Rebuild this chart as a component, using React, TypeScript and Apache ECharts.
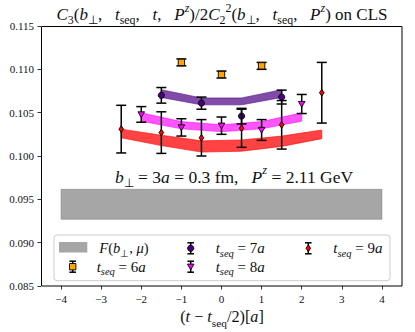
import React, { useEffect, useRef } from "react";
import * as echarts from "echarts";

// ---- data ----
const xTicks = [-4, -3, -2, -1, 0, 1, 2, 3, 4];

const x6 = [-1, 0, 1];
const y6 = [0.1108, 0.1094, 0.1104];
const e6 = [0.0004, 0.0004, 0.0004];

const x7 = [-1.5, -0.5, 0.5, 1.5];
const y7 = [0.107, 0.1061, 0.1046, 0.1068];
const e7 = [0.0009, 0.0007, 0.0009, 0.0008];

const x8 = [-2, -1, 0, 1, 2];
const y8 = [0.1048, 0.1033, 0.1035, 0.103, 0.106];
const e8 = [0.0009, 0.001, 0.001, 0.0012, 0.0011];

const x9 = [-2.5, -1.5, -0.5, 0.5, 1.5, 2.5];
const y9 = [0.1031, 0.1027, 0.1021, 0.1032, 0.1036, 0.1073];
const e9 = [0.00275, 0.0024, 0.0021, 0.0022, 0.0028, 0.0035];

// fit bands (centre, half width)
const b7x = [-1.5, -0.5, 0.5, 1.5];
const b7c = [0.1072, 0.1063, 0.1063, 0.1072];
const b7h = [0.00045, 0.0004, 0.0004, 0.00045];

const b8x = [-2, -1, 0, 1, 2];
const b8c = [0.1045, 0.10355, 0.1032, 0.10355, 0.1045];
const b8h = [0.00048, 0.00042, 0.0004, 0.00042, 0.00048];

const b9x = [-2.5, -1.5, -0.5, 0.5, 1.5, 2.5];
const b9c = [0.1026, 0.1018, 0.1011, 0.1012, 0.1017, 0.1025];
const b9h = [0.0005, 0.0006, 0.00065, 0.00065, 0.0006, 0.0005];

const bFx = [-4, 4];
const bFc = [0.094425, 0.094425];
const bFh = [0.001725, 0.001725];

const FONT = "'Liberation Serif', serif";

function richSet(S: number) {
  return {
    r: { fontFamily: FONT, fontSize: S, fontStyle: "normal", lineHeight: S * 1.4, fill: "#111" },
    i: { fontFamily: FONT, fontSize: S, fontStyle: "italic", lineHeight: S * 1.4, fill: "#111" },
    sub: { fontFamily: FONT, fontSize: S * 0.7, lineHeight: S * 0.7, verticalAlign: "bottom", fill: "#111" },
    isub: { fontFamily: FONT, fontSize: S * 0.7, fontStyle: "italic", lineHeight: S * 0.7, verticalAlign: "bottom", fill: "#111" },
    sup: { fontFamily: FONT, fontSize: S * 0.7, fontStyle: "italic", lineHeight: S * 0.7, verticalAlign: "top", fill: "#111" },
    nsup: { fontFamily: FONT, fontSize: S * 0.7, lineHeight: S * 0.7, verticalAlign: "top", fill: "#111" },
  };
}

function markerEl(shape: string, x: number, y: number, fill: string) {
  const st = { fill, stroke: "#000", lineWidth: 0.9 };
  if (shape === "square") return { type: "rect", shape: { x: x - 3.2, y: y - 3.2, width: 6.4, height: 6.4 }, style: st };
  if (shape === "circle") return { type: "circle", shape: { cx: x, cy: y, r: 3.1 }, style: st };
  if (shape === "tri")
    return { type: "polygon", shape: { points: [[x - 3.3, y - 2.6], [x + 3.3, y - 2.6], [x, y + 3.1]] }, style: st };
  return { type: "polygon", shape: { points: [[x, y - 3.4], [x + 2.3, y], [x, y + 3.4], [x - 2.3, y]] }, style: st };
}

function errIcon(cx: number, cy: number, shape: string, fill: string, half: number, cap: number) {
  const ls = { stroke: "#000", lineWidth: 1.5 };
  return [
    { type: "line", shape: { x1: cx, y1: cy - half, x2: cx, y2: cy + half }, style: ls },
    { type: "line", shape: { x1: cx - cap, y1: cy - half, x2: cx + cap, y2: cy - half }, style: ls },
    { type: "line", shape: { x1: cx - cap, y1: cy + half, x2: cx + cap, y2: cy + half }, style: ls },
    markerEl(shape, cx, cy, fill),
  ];
}

function errSeries(name: string, xs: number[], ys: number[], es: number[], shape: string, fill: string, z: number) {
  return {
    type: "custom",
    name,
    z,
    silent: true,
    data: xs.map((x, i) => [x, ys[i], es[i]]),
    encode: { x: 0, y: 1 },
    renderItem: (params: any, api: any) => {
      const x = api.value(0);
      const v = api.value(1);
      const e = api.value(2);
      const pt = api.coord([x, v + e]);
      const pb = api.coord([x, v - e]);
      const p = api.coord([x, v]);
      const cap = 5;
      const ls = { stroke: "#000", lineWidth: 1.5 };
      return {
        type: "group",
        children: [
          { type: "line", shape: { x1: pt[0], y1: pt[1], x2: pb[0], y2: pb[1] }, style: ls },
          { type: "line", shape: { x1: pt[0] - cap, y1: pt[1], x2: pt[0] + cap, y2: pt[1] }, style: ls },
          { type: "line", shape: { x1: pb[0] - cap, y1: pb[1], x2: pb[0] + cap, y2: pb[1] }, style: ls },
          markerEl(shape, p[0], p[1], fill),
        ],
      };
    },
  };
}

function bandSeries(xs: number[], c: number[], h: number[], fill: string, z: number) {
  return {
    type: "custom",
    z,
    silent: true,
    data: xs.map((x, i) => [x, c[i] - h[i], c[i] + h[i]]),
    encode: { x: 0, y: [1, 2] },
    renderItem: (params: any, api: any) => {
      if (params.dataIndex !== 0) return { type: "group", children: [] };
      const top = xs.map((x, i) => api.coord([x, c[i] + h[i]]));
      const bot = xs.map((x, i) => api.coord([x, c[i] - h[i]])).reverse();
      return {
        type: "polygon",
        shape: { points: top.concat(bot) },
        style: { fill, stroke: fill, lineWidth: 0.8 },
      };
    },
  };
}

export default function App() {
  const ref = useRef<HTMLDivElement>(null);
  useEffect(() => {
    if (!ref.current) return;
    const chart = echarts.init(ref.current, undefined, { renderer: "svg" });

    const legendX = 54;
    const legendY = 235;
    const r1 = 248.3;
    const r2 = 266.7;
    const sp = "\u2002";

    const option: any = {
      animation: false,
      grid: { left: 41, right: 13, top: 26, bottom: 46, show: false },
      xAxis: {
        type: "value",
        min: -4.5,
        max: 4.5,
        axisLine: { show: false, onZero: false },
        splitLine: { show: false },
        axisTick: { show: true, length: 3.5, inside: false, lineStyle: { color: "#000", width: 0.8 }, customValues: xTicks },
        axisLabel: {
          customValues: xTicks,
          margin: 7,
          fontFamily: FONT,
          fontSize: 11,
          color: "#111",
          formatter: (v: number) => (v < 0 ? "\u2212" + Math.abs(v) : String(v)),
        },
      },
      yAxis: {
        type: "value",
        min: 0.085,
        max: 0.115,
        interval: 0.005,
        axisLine: { show: false, onZero: false },
        splitLine: { show: false },
        axisTick: { show: true, length: 3.5, inside: false, lineStyle: { color: "#000", width: 0.8 } },
        axisLabel: { margin: 7, fontFamily: FONT, fontSize: 11, color: "#111", formatter: (v: number) => v.toFixed(3) },
      },
      series: [
        bandSeries(bFx, bFc, bFh, "rgba(128,128,128,0.7)", 1),
        bandSeries(b7x, b7c, b7h, "rgba(75,0,130,0.7)", 2),
        bandSeries(b8x, b8c, b8h, "rgba(255,0,255,0.67)", 2),
        bandSeries(b9x, b9c, b9h, "rgba(255,0,0,0.74)", 2),
        errSeries("6a", x6, y6, e6, "square", "#FFA500", 3),
        errSeries("7a", x7, y7, e7, "circle", "#4B0082", 3),
        errSeries("8a", x8, y8, e8, "tri", "#FF00FF", 3),
        errSeries("9a", x9, y9, e9, "diamond", "#FF0000", 3),
      ],
      graphic: [
        {
          type: "rect",
          shape: { x: 41.5, y: 26.5, width: 360.5, height: 259.5 },
          style: { fill: "none", stroke: "#000", lineWidth: 1 },
          z: 30,
          silent: true,
        },
        {
          type: "text",
          x: 222,
          y: 14,
          style: {
            text:
              `{i|C}{sub|3}{r|(}{i|b}{sub|\u22a5}{r|,${sp} }{i|t}{sub|seq}{r|,${sp} }{i|t}{r|,${sp} }{i|P}{sup|z}{r|)/2}{i|C}{sub|2}{nsup|2}{r|(}{i|b}{sub|\u22a5}{r|,${sp} }{i|t}{sub|seq}{r|,${sp} }{i|P}{sup|z}{r|) on CLS}`,
            rich: richSet(17),
            align: "center",
            verticalAlign: "middle",
          },
        },
        {
          type: "text",
          x: 234,
          y: 176.5,
          z: 10,
          style: {
            text: `{i|b}{sub|\u22a5}{r| = 3}{i|a}{r| = 0.3 fm,${sp} }{i|P}{sup|z}{r| = 2.11 GeV}`,
            rich: richSet(17.5),
            align: "center",
            verticalAlign: "middle",
          },
        },
        {
          type: "text",
          x: 222,
          y: 317,
          style: {
            text: "{r|(}{i|t}{r| \u2212 }{i|t}{sub|seq}{r|/2)[}{i|a}{r|]}",
            rich: richSet(16.2),
            align: "center",
            verticalAlign: "middle",
          },
        },
        // legend
        {
          type: "group",
          z: 20,
          children: [
            {
              type: "rect",
              shape: { x: legendX, y: legendY, width: 336, height: 45.7, r: 3 },
              style: { fill: "rgba(255,255,255,0.8)", stroke: "#cccccc", lineWidth: 1 },
            },
            { type: "rect", shape: { x: 59, y: 242, width: 28.3, height: 10.5 }, style: { fill: "rgba(128,128,128,0.7)" } },
            {
              type: "text",
              x: 99.3,
              y: r1,
              style: { text: "{i|F}{r|(}{i|b}{sub|\u22a5}{r|, }{i|\u03bc}{r|)}", rich: richSet(14.5), align: "left", verticalAlign: "middle" },
            },
            ...errIcon(72.7, r2, "square", "#FFA500", 5.5, 3.3),
            {
              type: "text",
              x: 96.7,
              y: r2,
              style: { text: "{i|t}{isub|seq}{r| = 6}{i|a}", rich: richSet(15), align: "left", verticalAlign: "middle" },
            },
            ...errIcon(190.7, r1, "circle", "#4B0082", 5.5, 3.3),
            {
              type: "text",
              x: 215.7,
              y: r1,
              style: { text: "{i|t}{isub|seq}{r| = 7}{i|a}", rich: richSet(15), align: "left", verticalAlign: "middle" },
            },
            ...errIcon(190.7, r2, "tri", "#FF00FF", 5.5, 3.3),
            {
              type: "text",
              x: 215.7,
              y: r2,
              style: { text: "{i|t}{isub|seq}{r| = 8}{i|a}", rich: richSet(15), align: "left", verticalAlign: "middle" },
            },
            ...errIcon(308.3, r1, "diamond", "#FF0000", 5.5, 3.3),
            {
              type: "text",
              x: 333.3,
              y: r1,
              style: { text: "{i|t}{isub|seq}{r| = 9}{i|a}", rich: richSet(15), align: "left", verticalAlign: "middle" },
            },
          ],
        },
      ],
    };
    chart.setOption(option);
    return () => chart.dispose();
  }, []);
  return <div ref={ref} style={{ width: 415, height: 332, position: "absolute", left: 0, top: 0 }} />;
}
